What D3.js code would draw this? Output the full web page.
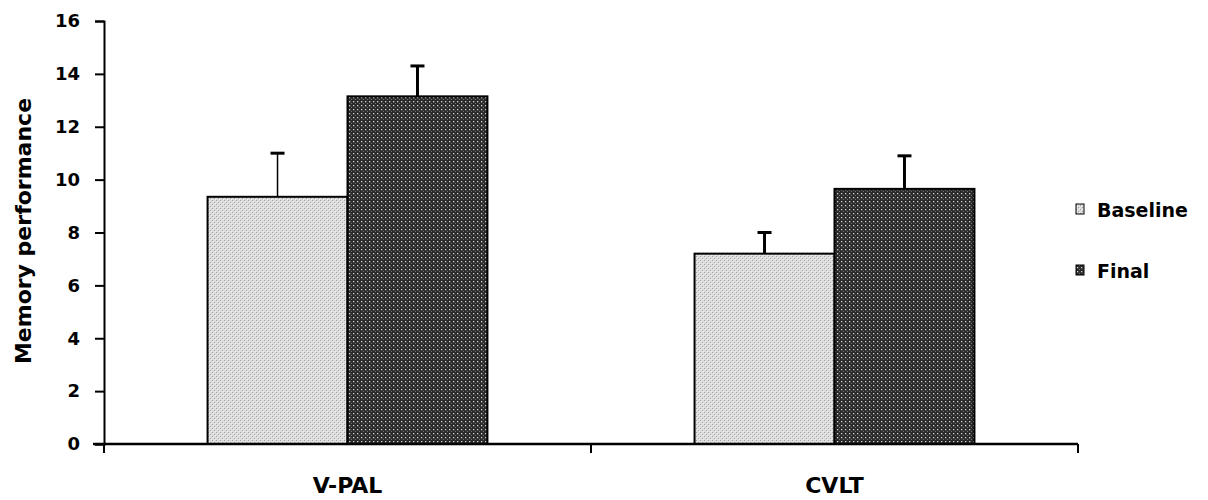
<!DOCTYPE html>
<html>
<head>
<meta charset="utf-8">
<script src="https://cdn.jsdelivr.net/npm/d3@7"></script>
<style>
  body { margin: 0; background: #fff; }
  text { font-family: "DejaVu Sans", sans-serif; font-weight: bold; }
</style>
</head>
<body>
<script>
// data
var categories = ["V-PAL", "CVLT"];
var seriesNames = ["Baseline", "Final"];
var baseline = [9.35, 7.2];
var baselineErr = [1.65, 0.8];
var finalVals = [13.15, 9.65];
var finalErr = [1.15, 1.25];
var yTicks = [0, 2, 4, 6, 8, 10, 12, 14, 16];

var width = 1208, height = 500;
var plotLeft = 104, plotRight = 1078, plotTop = 21, plotBottom = 444;
var fontFam = "'DejaVu Sans', sans-serif";

var svg = d3.select("body").append("svg")
    .attr("width", width)
    .attr("height", height);

// fill patterns
var defs = svg.append("defs");
var pLight = defs.append("pattern")
    .attr("id", "pBase").attr("patternUnits", "userSpaceOnUse")
    .attr("width", 4).attr("height", 4);
pLight.append("rect").attr("width", 4).attr("height", 4).attr("fill", "#dcdcdc");
pLight.append("rect").attr("x", 0).attr("y", 0).attr("width", 1).attr("height", 1).attr("fill", "#a0a0a0");
pLight.append("rect").attr("x", 2).attr("y", 2).attr("width", 1).attr("height", 1).attr("fill", "#a0a0a0");
pLight.append("rect").attr("x", 1).attr("y", 1).attr("width", 1).attr("height", 1).attr("fill", "#f4f4f4");
pLight.append("rect").attr("x", 3).attr("y", 3).attr("width", 1).attr("height", 1).attr("fill", "#f4f4f4");

var pDark = defs.append("pattern")
    .attr("id", "pFinal").attr("patternUnits", "userSpaceOnUse")
    .attr("width", 4).attr("height", 4);
pDark.append("rect").attr("width", 4).attr("height", 4).attr("fill", "#2a2a2a");
pDark.append("rect").attr("x", 1).attr("y", 1).attr("width", 1.3).attr("height", 1.3).attr("fill", "#d0d0d0");
pDark.append("rect").attr("x", 3).attr("y", 3).attr("width", 1).attr("height", 1).attr("fill", "#777");

var fills = ["url(#pBase)", "url(#pFinal)"];

var x0 = d3.scaleBand().domain(categories).range([plotLeft, plotRight]);
var x1 = d3.scaleBand().domain(seriesNames)
    .range([0, x0.bandwidth()]).paddingOuter(0.74);
var y = d3.scaleLinear().domain([0, 16]).range([plotBottom, plotTop]);

var rows = [];
categories.forEach(function(c, i) {
  rows.push({cat: c, s: "Baseline", v: baseline[i], e: baselineErr[i], k: 0});
  rows.push({cat: c, s: "Final", v: finalVals[i], e: finalErr[i], k: 1});
});

// bars
svg.selectAll("rect.bar").data(rows).enter().append("rect")
    .attr("class", "bar")
    .attr("x", function(d) { return x0(d.cat) + x1(d.s); })
    .attr("y", function(d) { return y(d.v); })
    .attr("width", x1.bandwidth())
    .attr("height", function(d) { return y(0) - y(d.v); })
    .attr("fill", function(d) { return fills[d.k]; })
    .attr("stroke", "#000")
    .attr("stroke-width", 2);

// error bars
var eb = svg.selectAll("g.err").data(rows).enter().append("g").attr("class", "err");
eb.append("line")
    .attr("x1", function(d) { return x0(d.cat) + x1(d.s) + x1.bandwidth() / 2; })
    .attr("x2", function(d) { return x0(d.cat) + x1(d.s) + x1.bandwidth() / 2; })
    .attr("y1", function(d) { return y(d.v); })
    .attr("y2", function(d) { return y(d.v + d.e); })
    .attr("stroke", "#000")
    .attr("stroke-width", function(d, i) { return i === 0 ? 1.5 : 3; });
eb.append("line")
    .attr("x1", function(d) { return x0(d.cat) + x1(d.s) + x1.bandwidth() / 2 - 7; })
    .attr("x2", function(d) { return x0(d.cat) + x1(d.s) + x1.bandwidth() / 2 + 7; })
    .attr("y1", function(d) { return y(d.v + d.e); })
    .attr("y2", function(d) { return y(d.v + d.e); })
    .attr("stroke", "#000")
    .attr("stroke-width", 3);

// y axis
var yAxis = svg.append("g")
    .attr("transform", "translate(" + plotLeft + ",0)")
    .call(d3.axisLeft(y).tickValues(yTicks).tickSize(9).tickPadding(15));
yAxis.select(".domain").attr("stroke-width", 2);
yAxis.selectAll(".tick line").attr("stroke-width", 2);
yAxis.selectAll("text").attr("font-size", 18).attr("fill", "#000")
    .style("font-family", fontFam);

// x axis
var xAxis = svg.append("g")
    .attr("transform", "translate(0," + plotBottom + ")")
    .call(d3.axisBottom(x0).tickSize(0).tickPadding(33));
xAxis.select(".domain").attr("d", "M" + (plotLeft - 11) + ",0H" + plotRight).attr("stroke-width", 2.5);
xAxis.selectAll("text").attr("font-size", 22).attr("fill", "#000")
    .style("font-family", fontFam);
// category separator ticks
var sepTicks = [plotLeft, x0("CVLT"), plotRight];
svg.selectAll("line.sep").data(sepTicks).enter().append("line")
    .attr("class", "sep")
    .attr("x1", function(d) { return d; }).attr("x2", function(d) { return d; })
    .attr("y1", plotBottom).attr("y2", plotBottom + 9)
    .attr("stroke", "#000").attr("stroke-width", 2);

// y label
svg.append("text")
    .attr("transform", "translate(31," + 231 + ") rotate(-90)")
    .attr("text-anchor", "middle")
    .attr("font-size", 22)
    .text("Memory performance");

// legend
var lg = svg.selectAll("g.leg").data(seriesNames).enter().append("g")
    .attr("class", "leg")
    .attr("transform", function(d, i) { return "translate(1076," + (217 + i * 61) + ")"; });
lg.append("rect")
    .attr("x", 0).attr("y", -13).attr("width", 8).attr("height", 10)
    .attr("fill", function(d, i) { return fills[i]; })
    .attr("stroke", "#000").attr("stroke-width", 1);
lg.append("text")
    .attr("x", 21).attr("y", 0)
    .attr("font-size", 19)
    .text(function(d) { return d; });
</script>
</body>
</html>
